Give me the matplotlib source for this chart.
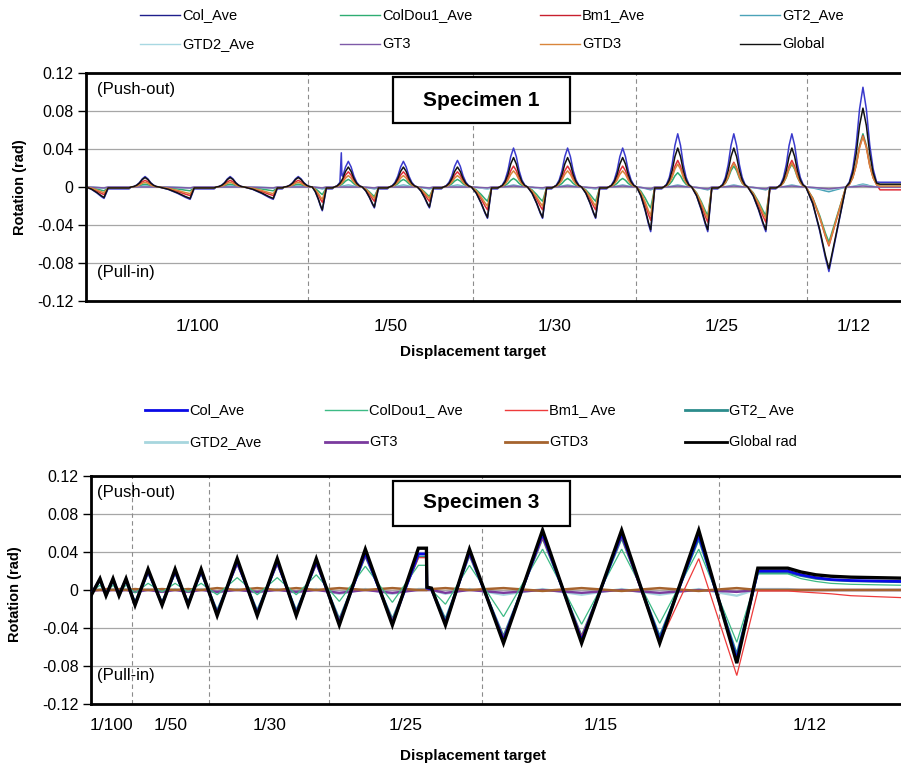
import numpy as np
import matplotlib
matplotlib.use("Agg")
import matplotlib.pyplot as plt
from matplotlib import font_manager
from matplotlib.lines import Line2D
from matplotlib.patches import Rectangle

_names = {f.name for f in font_manager.fontManager.ttflist}
NARROW = "Liberation Sans Narrow" if "Liberation Sans Narrow" in _names else "Liberation Sans"
plt.rcParams["font.family"] = "Liberation Sans"

# ---------------- Specimen 1 (one push/pull cycle per entry) ----------------
s1_names = ["Col_Ave", "ColDou1_Ave", "Bm1_Ave", "GT2_Ave", "GTD2_Ave", "GT3", "GTD3", "Global"]
s1_targets = ["1/100", "1/50", "1/30", "1/25", "1/12"]
s1_bounds = [0, 222, 387, 549, 720, 814]
s1_trough_step = [18, 104, 187, 236, 288, 343, 401, 456, 509, 564, 621, 679, 742]
s1_peak_step = [59, 144, 212, 262, 317, 371, 427, 481, 536, 591, 647, 705, 776]

s1_peak = {
    "Col_Ave":     [0.011, 0.011, 0.011, 0.027, 0.027, 0.028, 0.041, 0.041, 0.041, 0.056, 0.056, 0.056, 0.105],
    "ColDou1_Ave": [0.003, 0.003, 0.003, 0.008, 0.008, 0.008, 0.009, 0.009, 0.009, 0.015, 0.022, 0.024, 0.056],
    "Bm1_Ave":     [0.007, 0.007, 0.007, 0.016, 0.016, 0.016, 0.022, 0.022, 0.022, 0.028, 0.026, 0.028, 0.054],
    "GT2_Ave":     [0.001, 0.001, 0.001, 0.002, 0.002, 0.002, 0.002, 0.002, 0.002, 0.002, 0.002, 0.002, 0.003],
    "GTD2_Ave":    [0.000, 0.000, 0.000, 0.001, 0.001, 0.001, 0.001, 0.001, 0.001, 0.001, 0.001, 0.001, 0.002],
    "GT3":         [0.000, 0.000, 0.000, 0.000, 0.000, 0.000, 0.001, 0.001, 0.001, 0.001, 0.001, 0.001, 0.001],
    "GTD3":        [0.005, 0.005, 0.005, 0.012, 0.012, 0.012, 0.017, 0.017, 0.017, 0.024, 0.025, 0.025, 0.053],
    "Global":      [0.010, 0.010, 0.010, 0.021, 0.021, 0.021, 0.031, 0.031, 0.031, 0.041, 0.041, 0.041, 0.083],
}
s1_trough = {
    "Col_Ave":     [-0.012, -0.013, -0.013, -0.025, -0.022, -0.022, -0.033, -0.033, -0.033, -0.047, -0.047, -0.047, -0.089],
    "ColDou1_Ave": [-0.004, -0.004, -0.004, -0.008, -0.010, -0.010, -0.015, -0.015, -0.015, -0.022, -0.030, -0.030, -0.058],
    "Bm1_Ave":     [-0.008, -0.009, -0.009, -0.016, -0.015, -0.015, -0.024, -0.024, -0.024, -0.035, -0.037, -0.037, -0.062],
    "GT2_Ave":     [-0.001, -0.001, -0.001, -0.002, -0.002, -0.002, -0.002, -0.002, -0.002, -0.003, -0.003, -0.003, -0.005],
    "GTD2_Ave":    [-0.001, -0.001, -0.001, -0.001, -0.001, -0.001, -0.002, -0.002, -0.002, -0.002, -0.002, -0.002, -0.003],
    "GT3":         [-0.001, -0.001, -0.001, -0.001, -0.001, -0.001, -0.001, -0.001, -0.001, -0.002, -0.002, -0.002, -0.002],
    "GTD3":        [-0.006, -0.007, -0.007, -0.013, -0.012, -0.012, -0.020, -0.020, -0.020, -0.030, -0.033, -0.033, -0.061],
    "Global":      [-0.011, -0.012, -0.012, -0.024, -0.021, -0.021, -0.032, -0.032, -0.032, -0.045, -0.045, -0.045, -0.086],
}
s1_rest = {"Col_Ave": -0.002, "ColDou1_Ave": -0.001, "Bm1_Ave": -0.001, "GT2_Ave": -0.001,
           "GTD2_Ave": 0.0, "GT3": 0.0, "GTD3": -0.001, "Global": -0.001}
s1_final = {"Col_Ave": 0.005, "ColDou1_Ave": 0.002, "Bm1_Ave": -0.003, "GT2_Ave": 0.002,
            "GTD2_Ave": 0.001, "GT3": 0.0, "GTD3": 0.001, "Global": 0.003}
# blue gauge jump at the start of the first 1/50 push
s1_col_spike_step = [255.0, 255.6]
s1_col_spike_val = [0.036, 0.012]

# ---------------- Specimen 3 (recorded turning points) ----------------
s3_names = ["Col_Ave", "ColDou1_ Ave", "Bm1_ Ave", "GT2_ Ave", "GTD2_Ave", "GT3", "GTD3", "Global rad"]
s3_targets = ["1/100", "1/50", "1/30", "1/25", "1/15", "1/12"]
s3_bounds = [0, 41, 118, 238, 391, 627, 809]
s3_step = [0, 9, 15, 22, 28, 35,
           44, 57, 71, 84, 97, 110,
           126, 146, 166, 186, 205, 225,
           248, 274, 301, 327, 335, 335.5, 340, 354, 378,
           412, 451, 490, 530, 568, 607,
           645, 666, 696, 709, 724, 739, 759, 784, 809]
s3_values = {
    "Col_Ave": [-0.005, 0.011, -0.005, 0.011, -0.005, 0.011,
                -0.015, 0.020, -0.015, 0.020, -0.015, 0.020,
                -0.025, 0.030, -0.025, 0.030, -0.025, 0.030,
                -0.035, 0.039, -0.035, 0.038, 0.038, 0.002, 0.001, -0.035, 0.040,
                -0.053, 0.059, -0.053, 0.059, -0.053, 0.058,
                -0.073, 0.020, 0.020, 0.016, 0.013, 0.011, 0.010, 0.0095, 0.009],
    "ColDou1_ Ave": [-0.002, 0.005, -0.002, 0.005, -0.002, 0.005,
                     -0.003, 0.007, -0.002, 0.007, -0.002, 0.007,
                     -0.005, 0.013, -0.005, 0.013, -0.005, 0.016,
                     -0.012, 0.025, -0.013, 0.026, 0.026, 0.001, 0.000, -0.015, 0.026,
                     -0.028, 0.043, -0.036, 0.043, -0.035, 0.043,
                     -0.055, 0.017, 0.017, 0.012, 0.009, 0.007, 0.006, 0.0055, 0.005],
    "Bm1_ Ave": [-0.004, 0.010, -0.005, 0.010, -0.005, 0.010,
                 -0.014, 0.018, -0.014, 0.018, -0.014, 0.018,
                 -0.023, 0.027, -0.023, 0.027, -0.023, 0.027,
                 -0.032, 0.036, -0.032, 0.034, 0.034, 0.001, 0.000, -0.033, 0.037,
                 -0.050, 0.055, -0.049, 0.056, -0.055, 0.033,
                 -0.090, -0.001, -0.001, -0.002, -0.003, -0.004, -0.006, -0.007, -0.008],
    "GT2_ Ave": [-0.004, 0.010, -0.004, 0.010, -0.004, 0.010,
                 -0.013, 0.018, -0.013, 0.018, -0.013, 0.018,
                 -0.022, 0.028, -0.022, 0.028, -0.022, 0.028,
                 -0.031, 0.036, -0.031, 0.035, 0.035, 0.002, 0.001, -0.031, 0.037,
                 -0.049, 0.055, -0.049, 0.055, -0.049, 0.054,
                 -0.068, 0.018, 0.018, 0.015, 0.012, 0.0105, 0.0095, 0.009, 0.0085],
    "GTD2_Ave": [0.000, 0.001, 0.000, 0.001, 0.000, 0.001,
                 -0.002, 0.001, -0.002, 0.001, -0.002, 0.001,
                 -0.003, 0.001, -0.003, 0.001, -0.003, 0.001,
                 -0.004, 0.001, -0.004, 0.001, 0.001, 0.000, 0.000, -0.004, 0.001,
                 -0.005, 0.001, -0.005, 0.001, -0.005, 0.001,
                 -0.006, 0.001, 0.001, 0.000, 0.000, 0.000, 0.000, 0.000, 0.000],
    "GT3": [-0.001, 0.000, -0.001, 0.000, -0.001, 0.000,
            -0.002, 0.000, -0.002, 0.000, -0.002, 0.000,
            -0.002, 0.000, -0.002, 0.000, -0.002, 0.000,
            -0.003, 0.000, -0.003, 0.000, 0.000, 0.000, 0.000, -0.003, 0.000,
            -0.003, 0.000, -0.003, 0.000, -0.003, 0.000,
            -0.002, 0.000, 0.000, 0.000, 0.000, 0.000, 0.000, 0.000, 0.000],
    "GTD3": [0.000, 0.000, 0.001, 0.000, 0.001, 0.000,
             0.001, 0.000, 0.001, 0.000, 0.001, 0.000,
             0.002, 0.000, 0.002, 0.000, 0.002, 0.000,
             0.002, 0.000, 0.002, 0.000, 0.000, 0.001, 0.001, 0.002, 0.000,
             0.002, -0.001, 0.002, -0.001, 0.002, -0.001,
             0.002, 0.000, 0.000, 0.000, 0.000, 0.000, 0.000, 0.000, 0.000],
    "Global rad": [-0.006, 0.012, -0.006, 0.012, -0.006, 0.012,
                   -0.016, 0.022, -0.016, 0.022, -0.016, 0.022,
                   -0.027, 0.033, -0.027, 0.033, -0.027, 0.033,
                   -0.037, 0.043, -0.037, 0.044, 0.044, 0.003, 0.002, -0.037, 0.043,
                   -0.056, 0.063, -0.056, 0.063, -0.056, 0.063,
                   -0.077, 0.023, 0.023, 0.019, 0.016, 0.0145, 0.0135, 0.013, 0.0125],
}

y_ticks = [-0.12, -0.08, -0.04, 0, 0.04, 0.08, 0.12]
y_labels = ["-0.12", "-0.08", "-0.04", "0", "0.04", "0.08", "0.12"]

# styles
s1_colors = ["#3A3ACC", "#2EAD72", "#E0303A", "#4BA3B8", "#A8D8E2", "#7E5AA8", "#D9853B", "#111111"]
s1_legend_colors = ["#1E1E8C", "#2EAD72", "#C8202E", "#4BA3B8", "#A8D8E2", "#7E5AA8", "#D9853B", "#111111"]
s3_colors = ["#0A0AE6", "#3DBB85", "#EE3B3B", "#2C8C8C", "#A7D6DE", "#7A3A9E", "#A5632E", "#000000"]
s3_widths = [2.0, 0.9, 0.9, 1.7, 1.7, 1.7, 1.8, 2.4]
s3_z = [2.8, 2.5, 2.6, 2.0, 2.1, 2.2, 2.3, 3.0]

# outline of one push (bell) and one pull descent, as (offset, fraction of amplitude)
BELL = [(-1, 0.0), (-0.8, 0.05), (-0.6, 0.18), (-0.4, 0.42), (-0.2, 0.78), (0, 1.0),
        (0.2, 0.78), (0.4, 0.42), (0.6, 0.18), (0.8, 0.05), (1, 0.0)]
DESCENT = [(0.3, 0.2), (0.6, 0.52), (0.85, 0.84), (1.0, 1.0)]

W, H = 901, 767


def build_s1(name):
    xs, ys = [0.0], [0.0]
    z = 0.0
    n = len(s1_peak_step)
    for i in range(n):
        a, b = s1_trough_step[i], s1_peak_step[i]
        tr, pk = s1_trough[name][i], s1_peak[name][i]
        last = i == n - 1
        w = 17 if last else 14
        for fx, fy in DESCENT:
            xs.append(z + fx * (a - z))
            ys.append(fy * tr)
        if not last:
            xs += [a + 4, b - w - 2]
            ys += [s1_rest[name], s1_rest[name]]
        for fx, fy in BELL:
            xs.append(b + fx * w)
            ys.append(fy * pk)
        z = b + w
    ys[-1] = s1_final[name]
    xs.append(s1_bounds[-1])
    ys.append(s1_final[name])
    xs, ys = np.array(xs), np.array(ys)
    if name == "Col_Ave":
        k = np.searchsorted(xs, s1_col_spike_step[0])
        xs = np.insert(xs, k, s1_col_spike_step)
        ys = np.insert(ys, k, s1_col_spike_val)
    return xs, ys


def px_axes(fig, l, t, r, b):
    return fig.add_axes([l / W, 1 - b / H, (r - l) / W, (b - t) / H])


def style_axis(ax, bounds, targets, label_pad):
    ax.set_xlim(bounds[0], bounds[-1])
    ax.set_ylim(-0.12, 0.12)
    ax.set_yticks(y_ticks)
    ax.set_yticklabels(y_labels, fontsize=11.5)
    ax.yaxis.grid(True, color="#A6A6A6", lw=0.9)
    ax.set_axisbelow(True)
    for b in bounds[1:-1]:
        ax.axvline(b, color="#8C8C8C", lw=0.8, ls=(0, (4, 3)), zorder=1)
    centers = [(bounds[i] + bounds[i + 1]) / 2 for i in range(len(targets))]
    ax.set_xticks(centers)
    ax.set_xticklabels(targets, fontsize=12.5)
    ax.tick_params(axis="x", length=0, pad=label_pad)
    ax.tick_params(axis="y", length=6, width=1, direction="out", pad=3)
    for s in ["top", "bottom", "left"]:
        ax.spines[s].set_linewidth(2)
    ax.spines["right"].set_visible(False)


def legend_rows(fig, names, colors, widths, rows_y, cols_x, handle_len):
    for i, (nm, c, lw) in enumerate(zip(names, colors, widths)):
        y = rows_y[i // 4]
        x0 = cols_x[i % 4]
        fig.add_artist(Line2D([x0 / W, (x0 + handle_len) / W], [1 - y / H, 1 - y / H],
                              color=c, lw=lw, transform=fig.transFigure))
        fig.text((x0 + handle_len + 2) / W, 1 - y / H, nm, fontsize=10.5, family=NARROW,
                 ha="left", va="center")


fig = plt.figure(figsize=(W / 100, H / 100), dpi=100)

# ---- Specimen 1 ----
ax1 = px_axes(fig, 86, 73, 901, 301)
style_axis(ax1, s1_bounds, s1_targets, 13)
for nm, c in zip(s1_names, s1_colors):
    xs, ys = build_s1(nm)
    ax1.plot(xs, ys, color=c, lw=1.1, zorder=3 if nm == "Global" else 2)
ax1.text(11, 0.103, "(Push-out)", fontsize=12, va="center")
ax1.text(11, -0.09, "(Pull-in)", fontsize=12, va="center")
ax1.add_patch(Rectangle(((393 - 86), 0.12 - (123 - 73) / 228 * 0.24), 569 - 393, 46 / 228 * 0.24,
                        fill=True, facecolor="white", edgecolor="black", lw=1.6, zorder=5))
ax1.text((481 - 86), 0.12 - (100 - 73) / 228 * 0.24, "Specimen 1", fontsize=15, weight="bold",
         ha="center", va="center", zorder=6)
fig.text(473 / W, 1 - 352 / H, "Displacement target", fontsize=11, weight="bold", ha="center", va="center")
fig.text(20 / W, 1 - 187 / H, "Rotation (rad)", fontsize=10.5, weight="bold", rotation=90,
         ha="center", va="center")
legend_rows(fig, s1_names, s1_legend_colors, [1.0] * 8, [15, 44], [140, 340, 540, 740], 40)

# ---- Specimen 3 ----
ax3 = px_axes(fig, 91, 476, 901, 704)
style_axis(ax3, s3_bounds, s3_targets, 10)
for nm, c, lw, z in zip(s3_names, s3_colors, s3_widths, s3_z):
    ax3.plot(s3_step, s3_values[nm], color=c, lw=lw, zorder=z, solid_joinstyle="miter")
ax3.text(6, 0.103, "(Push-out)", fontsize=12, va="center")
ax3.text(6, -0.09, "(Pull-in)", fontsize=12, va="center")
ax3.add_patch(Rectangle(((393 - 91), 0.12 - (526 - 476) / 228 * 0.24), 569 - 393, 45 / 228 * 0.24,
                        fill=True, facecolor="white", edgecolor="black", lw=1.6, zorder=5))
ax3.text((481 - 91), 0.12 - (503 - 476) / 228 * 0.24, "Specimen 3", fontsize=15, weight="bold",
         ha="center", va="center", zorder=6)
fig.text(473 / W, 1 - 756 / H, "Displacement target", fontsize=11, weight="bold", ha="center", va="center")
fig.text(15 / W, 1 - 594 / H, "Rotation (rad)", fontsize=10.5, weight="bold", rotation=90,
         ha="center", va="center")
legend_rows(fig, s3_names, s3_colors, [2.0, 1.0, 1.0, 2.0, 2.0, 2.0, 2.0, 2.0], [410, 442],
            [145, 325, 505, 685], 42)

fig.savefig("out.png", dpi=100)
